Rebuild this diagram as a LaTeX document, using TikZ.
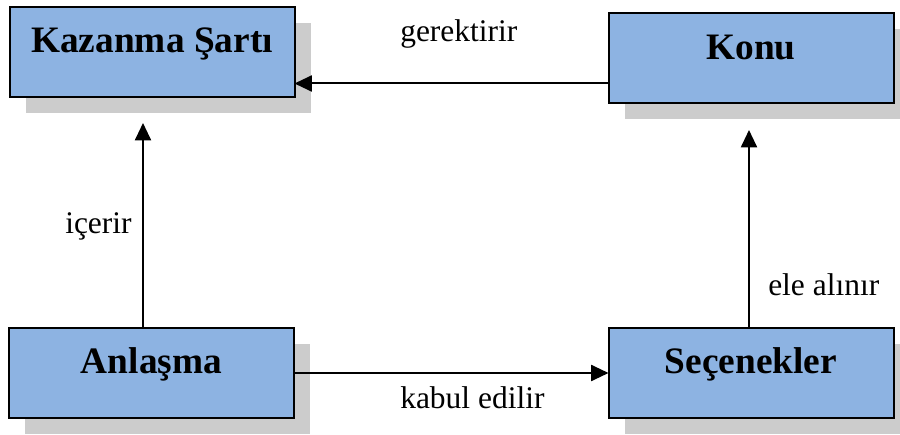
\documentclass[tikz,border=0pt]{standalone}
\usepackage{fontspec}
\setmainfont{Liberation Serif}
\usetikzlibrary{arrows.meta,shadows,calc}

\definecolor{boxblue}{RGB}{141,179,226}
\definecolor{shadowgray}{RGB}{204,204,204}

\tikzset{
  conceptbox/.style={
    rectangle, draw=black, line width=1.5pt, fill=boxblue,
    minimum width=213.75pt, minimum height=67.5pt,
    inner sep=0pt, outer sep=0pt,
    general shadow={fill=shadowgray, shadow xshift=12pt, shadow yshift=-12pt}
  },
  boxtext/.style={anchor=base, inner sep=0pt,
    font=\fontsize{28}{33}\selectfont\bfseries},
  relation/.style={anchor=base west, inner sep=0pt,
    font=\fontsize{23.6}{28}\selectfont},
  arr/.style={line width=1.5pt, -{Triangle[length=13pt,width=12pt]}}
}

\begin{document}
\begin{tikzpicture}[x=0.75pt, y=-0.75pt]
  \useasboundingbox (0,0) rectangle (900,435);

  % concept boxes
  \node[conceptbox] (kaz) at (152,52)    {};
  \node[conceptbox] (konu) at (751,58.5) {};
  \node[conceptbox] (anl) at (151.5,373) {};
  \node[conceptbox] (sec) at (751,373)   {};

  % box titles, set on a common baseline below each top edge
  \node[boxtext] (kazt)  at ($(kaz.north)+(0,46)$)  {Kazanma Şartı};
  \node[boxtext] (konut) at ($(konu.north)+(0,46)$) {Konu};
  \node[boxtext] (anlt)  at ($(anl.north)+(0,45)$)  {Anlaşma};
  \node[boxtext] (sect)  at ($(sec.north)+(0,45)$)  {Seçenekler};

  % connectors
  \coordinate (k1) at ($(konu.south west)+(0,-20)$);
  \draw[arr] (k1) -- (k1 -| kaz.east);

  \coordinate (a1) at (143,123);
  \draw[arr] (a1 |- anl.north) -- (a1);

  \draw[arr] (anl.east) -- (sec.west);

  \coordinate (s1) at (749,130);
  \draw[arr] (s1 |- sec.north) -- (s1);

  % relation labels
  \node[relation] (lgerek) at (400,42)  {gerektirir};
  \node[relation] (licer)  at (65,233)  {içerir};
  \node[relation] (lele)   at (768,295) {ele alınır};
  \node[relation] (lkabul) at (400,408) {kabul edilir};
\end{tikzpicture}
\end{document}
